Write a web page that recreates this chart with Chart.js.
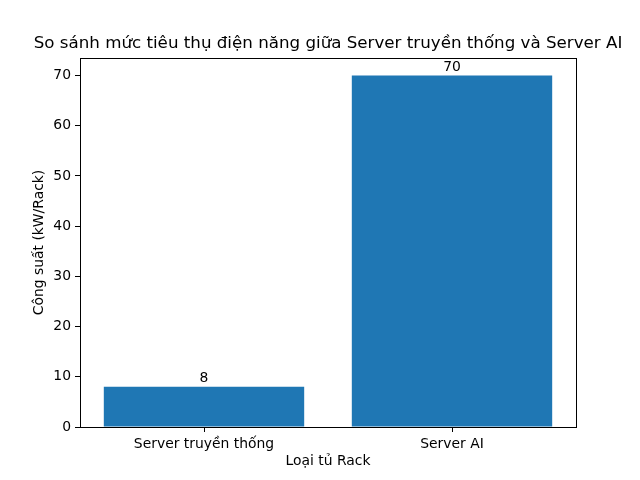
<!DOCTYPE html>
<html>
<head>
<meta charset="utf-8">
<script src="https://cdn.jsdelivr.net/npm/chart.js@4"></script>
<style>
  html, body { margin: 0; padding: 0; background: #fff; }
  #wrap { width: 640px; height: 480px; }
</style>
</head>
<body>
<div id="wrap"><canvas id="chart" width="640" height="480"></canvas></div>
<script>
const categories = ['Server truyền thống', 'Server AI'];
const powerValues = [8, 70];
const yTicks = [0, 10, 20, 30, 40, 50, 60, 70];

const chartTitle = 'So sánh mức tiêu thụ điện năng giữa Server truyền thống và Server AI';
const xTitle = 'Loại tủ Rack';
const yTitle = 'Công suất (kW/Rack)';

const FONT = 'DejaVu Sans';

// khung viền + tiêu đề + nhãn trên cột
const extrasPlugin = {
    id: 'extras',
    afterDraw: function(chart) {
        const ctx = chart.ctx;
        const a = chart.chartArea;
        ctx.save();
        ctx.strokeStyle = '#000';
        ctx.lineWidth = 1;
        ctx.strokeRect(Math.round(a.left) + 0.5, Math.round(a.top) + 0.5,
            Math.round(a.right - a.left), Math.round(a.bottom - a.top));

        ctx.fillStyle = '#000';
        ctx.font = '16.7px "' + FONT + '"';
        ctx.textAlign = 'center';
        ctx.textBaseline = 'alphabetic';
        ctx.fillText(chartTitle, (a.left + a.right) / 2, a.top - 10);

        ctx.font = '13.9px "' + FONT + '"';
        ctx.textBaseline = 'bottom';
        const meta = chart.getDatasetMeta(0);
        meta.data.forEach(function(bar, i) {
            ctx.fillText(String(powerValues[i]), bar.x, bar.y - 1);
        });
        ctx.restore();
    }
};

new Chart(document.getElementById('chart').getContext('2d'), {
    type: 'bar',
    data: {
        labels: categories,
        datasets: [{
            data: powerValues,
            backgroundColor: '#1f77b4',
            borderColor: '#1f77b4',
            borderWidth: 0,
            inflateAmount: 0,
            categoryPercentage: 1,
            barPercentage: 0.808
        }]
    },
    options: {
        responsive: false,
        animation: false,
        layout: { padding: { top: 58, right: 64, left: 0, bottom: 0 } },
        plugins: {
            legend: { display: false },
            title: { display: false },
            tooltip: { enabled: false }
        },
        scales: {
            x: {
                offset: true,
                grid: { display: true, drawOnChartArea: false, drawTicks: true, tickLength: 5, offset: false, color: '#000' },
                border: { display: false },
                ticks: { color: '#000', padding: 4, font: { family: FONT, size: 13.9 }, maxRotation: 0 },
                title: { display: true, text: xTitle, color: '#000', font: { family: FONT, size: 13.9 }, padding: { top: 0, bottom: 10 } },
                afterFit: function(scale) { scale.height = 53; }
            },
            y: {
                min: 0,
                max: 73.5,
                afterBuildTicks: function(scale) {
                    scale.ticks = yTicks.map(function(v) { return { value: v }; });
                },
                grid: { display: true, drawOnChartArea: false, drawTicks: true, tickLength: 5, color: '#000' },
                border: { display: false },
                ticks: { color: '#000', padding: 4, font: { family: FONT, size: 13.9 } },
                title: { display: true, text: yTitle, color: '#000', font: { family: FONT, size: 13.9 }, padding: { top: 31, bottom: 0 } },
                afterFit: function(scale) { scale.width = 80; }
            }
        }
    },
    plugins: [extrasPlugin]
});
</script>
</body>
</html>
